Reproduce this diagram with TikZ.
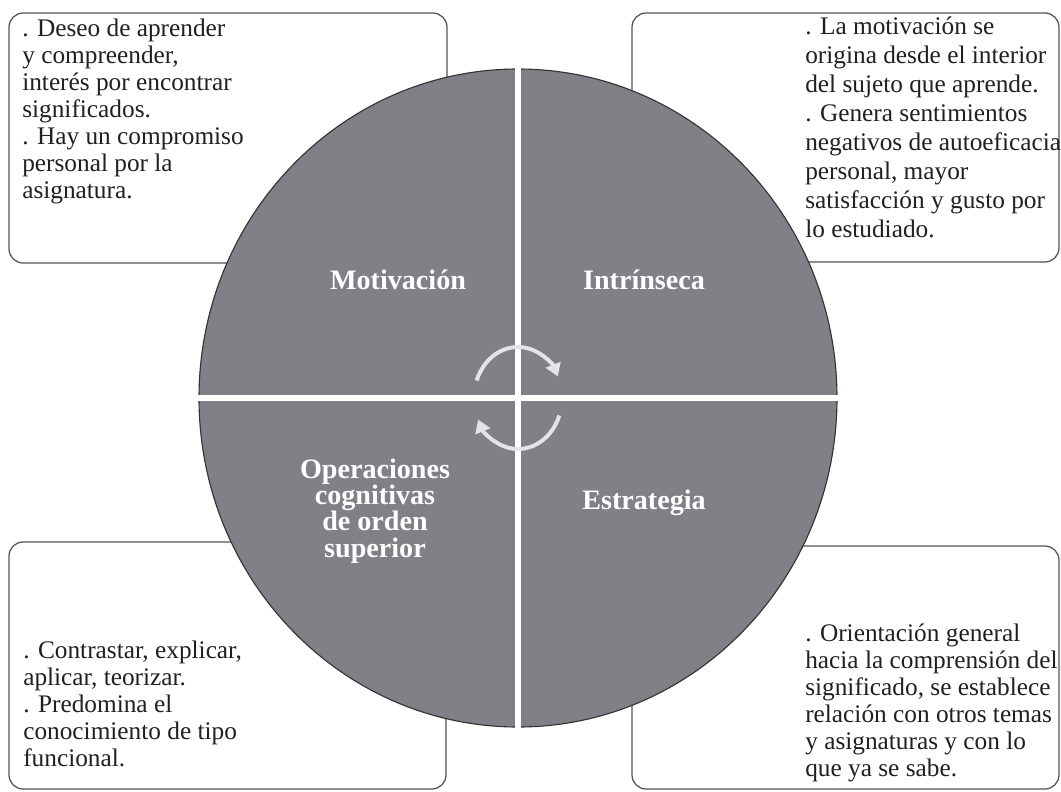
\documentclass[tikz,border=0pt]{standalone}
\usepackage{fontspec}
\setmainfont{Liberation Serif}
\usetikzlibrary{arrows.meta}
\definecolor{discgray}{HTML}{808186}
\definecolor{inkgray}{HTML}{231F20}
\definecolor{rimgray}{HTML}{555555}
\definecolor{cyclegray}{HTML}{E4E4E6}
\tikzset{
	notebox/.style    = {draw=rimgray, line width=0.9pt, rounded corners=10pt, fill=white},
	notetext/.style   = {anchor=base west, align=left, inner sep=0pt, text=inkgray, font=\fontsize{18}{19.2}\selectfont},
	quadrant/.style   = {anchor=base, align=center, inner sep=0pt, text=white, font=\fontsize{20}{18.5}\selectfont\bfseries},
	disc/.style       = {draw=black!80, line width=0.8pt, fill=discgray},
	divider/.style    = {draw=white, line width=3.6pt},
	roundarrow/.style = {draw=cyclegray, line width=2.8pt, -{Triangle[length=9pt,width=11pt]}},
}

\begin{document}
\begin{tikzpicture}[x=0.025cm, y=-0.025cm]
		\useasboundingbox (0,0) rectangle (1061,791);

		% Draw the four note boxes behind the disc
		\draw[notebox] (9,13) rectangle (447,263);
		\draw[notebox] (632,13) rectangle (1059,262);
		\draw[notebox] (9,542) rectangle (446,789);
		\draw[notebox] (632,546) rectangle (1059,789);

		% Draw the disc and cut it into quadrants
		\coordinate (hub) at (518,398);
		\draw[disc] (hub) ellipse [x radius=319, y radius=329];
		\coordinate (westend) at (196,398);
		\coordinate (eastend) at (840,398);
		\coordinate (northend) at (518,66);
		\coordinate (southend) at (518,730);
		\draw[divider] (westend) -- (eastend);
		\draw[divider] (northend) -- (southend);

		% Quadrant titles (base = last line)
		\node[quadrant] (motiv) at (398,289) {Motivación};
		\node[quadrant] (intrin) at (644,289) {Intrínseca};
		\node[quadrant] (operac) at (375,557) {Operaciones\\cognitivas\\de orden\\superior};
		\node[quadrant] (estrat) at (644,509) {Estrategia};

		% Cycle arrows round the hub
		\draw[roundarrow] ([shift={(-160:44 and 51)}]hub) arc[start angle=-160, end angle=-25, x radius=44, y radius=51];
		\draw[roundarrow] ([shift={(20:44 and 51)}]hub) arc[start angle=20, end angle=155, x radius=44, y radius=51];

		% Texts of the notes (base = last line)
		\node[notetext] (motivnote) at (22,198) {. Deseo de aprender\\y compreender,\\interés por encontrar\\significados.\\. Hay un compromiso\\personal por la\\asignatura.};
		\node[notetext, font=\fontsize{18}{20.6}\selectfont] (intrinnote) at (805,237) {. La motivación se\\origina desde el interior\\del sujeto que aprende.\\. Genera sentimientos\\negativos de autoeficacia\\personal, mayor\\satisfacción y gusto por\\lo estudiado.};
		\node[notetext] (operacnote) at (23,766) {. Contrastar, explicar,\\aplicar, teorizar.\\. Predomina el\\conocimiento de tipo\\funcional.};
		\node[notetext] (estratnote) at (805,776) {. Orientación general\\hacia la comprensión del\\significado, se establece\\relación con otros temas\\y asignaturas y con lo\\que ya se sabe.};
	\end{tikzpicture}
\end{document}
